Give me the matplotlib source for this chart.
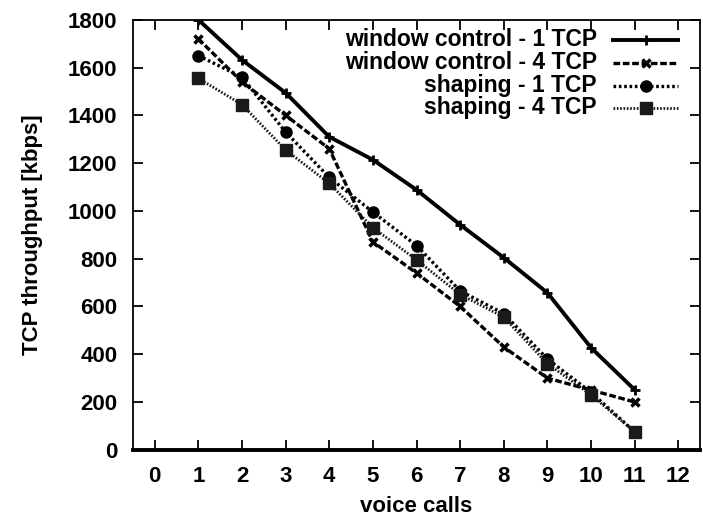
import matplotlib
matplotlib.use("Agg")
import matplotlib.pyplot as plt
from matplotlib.lines import Line2D

x = [1, 2, 3, 4, 5, 6, 7, 8, 9, 10, 11]
wc1 = [1800, 1632, 1494, 1310, 1214, 1088, 942, 804, 657, 427, 251]
wc4 = [1720, 1540, 1400, 1260, 870, 740, 600, 430, 300, 250, 200]
sh1 = [1650, 1560, 1330, 1140, 995, 855, 665, 570, 380, 240, 75]
sh4 = [1555, 1445, 1255, 1115, 930, 795, 650, 555, 360, 230, 75]
labels = ["window control - 1 TCP", "window control - 4 TCP",
          "shaping - 1 TCP", "shaping - 4 TCP"]

plt.rcParams['font.family'] = ['Liberation Sans', 'DejaVu Sans']
plt.rcParams['font.weight'] = 'bold'

fig = plt.figure(figsize=(7.03, 5.2), dpi=100)
ax = fig.add_axes([0.189, 0.135, 0.807, 0.827])

styles = [
    dict(color='black', lw=2.8, ls='-', marker='+', ms=7, mew=2),
    dict(color='black', lw=2.4, ls=(0, (2.0, 0.8)), marker='x', ms=6, mew=2.5),
    dict(color='black', lw=2.4, ls=(0, (0.8, 0.8)), marker='o', ms=8),
    dict(color='#1a1a1a', lw=2.0, ls=(0, (0.6, 0.6)), marker='s', ms=8),
]
for ys, st in zip([wc1, wc4, sh1, sh4], styles):
    ax.plot(x, ys, **st)

ax.set_xlim(-0.5, 12.5)
ax.set_ylim(0, 1800)
ax.set_xticks(range(0, 13))
ax.set_yticks(range(0, 1801, 200))
ax.tick_params(direction='in', top=True, right=True, length=7, width=1.3, labelsize=16)
ax.tick_params(axis='y', pad=11)
ax.tick_params(axis='x', pad=12)
for lab in ax.get_xticklabels() + ax.get_yticklabels():
    lab.set_fontweight('bold')
for s in ax.spines.values():
    s.set_linewidth(1.3)
ax.spines['bottom'].set_linewidth(2.8)
ax.set_xlabel('voice calls', fontsize=16, fontweight='bold', labelpad=6)
ax.set_ylabel('TCP throughput [kbps]', fontsize=16, fontweight='bold', labelpad=18)

# legend drawn manually, gnuplot-style (text right aligned, sample on right)
rows = [0.953, 0.900, 0.847, 0.795]
for lab, st, yy in zip(labels, styles, rows):
    ax.text(0.818, yy, lab, transform=ax.transAxes, ha='right', va='center',
            fontsize=16.5, fontweight='bold')
    ax.add_line(Line2D([0.847, 0.961], [yy, yy], transform=ax.transAxes,
                       color=st['color'], lw=st['lw'], ls=st['ls']))
    mst = {k: v for k, v in st.items() if k in ('marker', 'ms', 'mew', 'color')}
    ax.add_line(Line2D([0.904], [yy], transform=ax.transAxes, ls='none', **mst))

fig.savefig('out.png', dpi=100)
